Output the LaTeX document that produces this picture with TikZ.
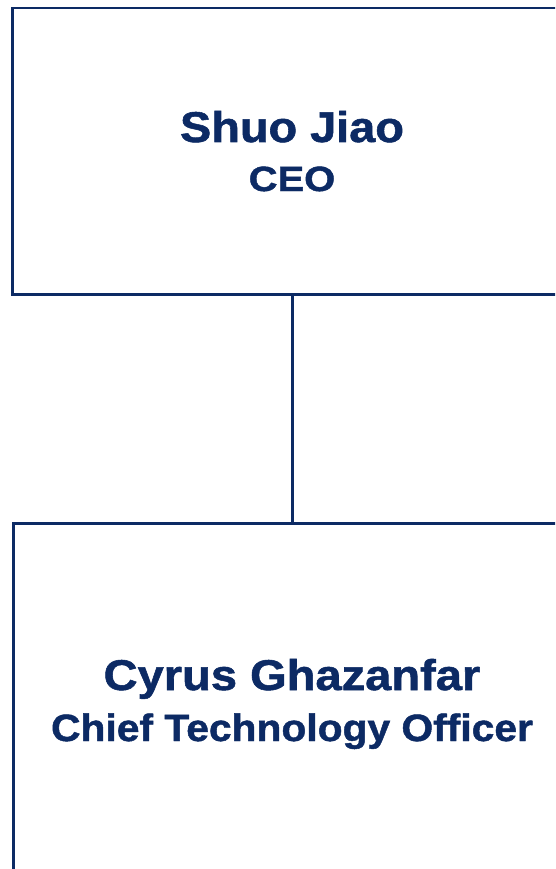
\documentclass[tikz,border=0pt]{standalone}
\usepackage{fontspec}
\setmainfont{Liberation Sans}[BoldFont={Liberation Sans Bold},BoldFeatures={FakeBold=1.2}]
\definecolor{navy}{HTML}{0C2A64}
\begin{document}
\begin{tikzpicture}[x=1pt,y=-1pt,
  box/.style={draw=navy,line width=2.6pt,fill=white,inner sep=0pt,outer sep=0pt},
  txt/.style={text=navy,inner sep=0pt,anchor=base,font=\bfseries}]
\useasboundingbox (0,0) rectangle (555,869);
\clip (0,0) rectangle (555,869);
\fill[white] (0,0) rectangle (555,869);
\node[box,minimum width=559.5pt,minimum height=286.5pt] (top) at (292.25,151.25) {};
\node[box,minimum width=557.5pt,minimum height=360pt] (bot) at (292.25,703.5) {};
\draw[navy,line width=2.6pt] (top.south) -- (bot.north);
\node[txt] (n1) at (292,142) {\fontsize{43}{43}\selectfont\scalebox{1.09}[1]{Shuo Jiao}};
\node[txt] (t1) at (292,191) {\fontsize{35}{35}\selectfont\scalebox{1.14}[1]{CEO}};
\node[txt] (n2) at (292,690) {\fontsize{43}{43}\selectfont\scalebox{1.095}[1]{Cyrus Ghazanfar}};
\node[txt] (t2) at (292,741) {\fontsize{38}{38}\selectfont\scalebox{1.073}[1]{Chief Technology Officer}};
\end{tikzpicture}
\end{document}
